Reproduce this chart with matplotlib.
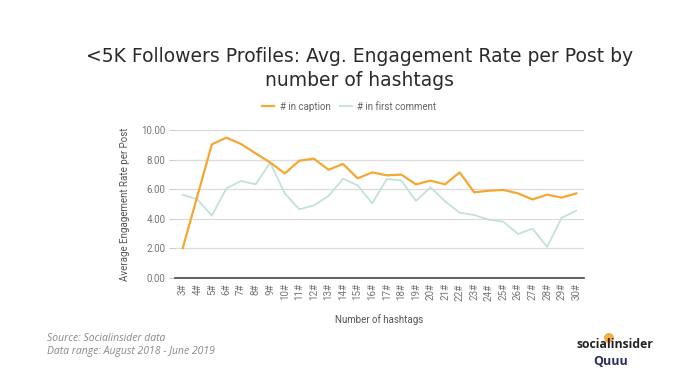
import numpy as np
import matplotlib.pyplot as plt
from matplotlib.patches import Ellipse

hashtags = list(range(3, 31))
tick_labels = [f'{n}#' for n in hashtags]

in_caption = [2.00, 5.50, 9.03, 9.48, 9.05, 8.42, 7.80, 7.06, 7.92, 8.06,
              7.31, 7.70, 6.73, 7.13, 6.93, 6.98, 6.32, 6.57, 6.32, 7.13,
              5.78, 5.89, 5.94, 5.71, 5.30, 5.62, 5.42, 5.71]
in_first_comment = [5.62, 5.30, 4.20, 6.05, 6.55, 6.32, 7.79, 5.71, 4.63, 4.90,
                    5.53, 6.70, 6.25, 5.03, 6.68, 6.59, 5.19, 6.12, 5.17, 4.40,
                    4.24, 3.93, 3.79, 2.96, 3.32, 2.08, 4.06, 4.54]

plt.rcParams['font.family'] = ['Roboto', 'DejaVu Sans']

fig = plt.figure(figsize=(7, 3.84), dpi=100)
ax = fig.add_axes([0.2506, 0.2768, 0.583, 0.3847])

ax.plot(hashtags, in_caption, color='#f5a733', lw=1.6, label='# in caption', zorder=3)
ax.plot(hashtags, in_first_comment, color='#c3e2d7', lw=1.3, label='# in first comment', zorder=2)

ax.set_xlim(2.5, 30.5)
ax.set_ylim(0, 10)
ax.set_yticks(np.arange(0, 10.1, 2))
ax.set_yticklabels([f'{v:.2f}' for v in np.arange(0, 10.1, 2)])
ax.set_xticks(hashtags)
ax.set_xticklabels(tick_labels, rotation=90, va='top')
ax.grid(axis='y', color='#dcdcdc', lw=0.9, zorder=0)
ax.set_axisbelow(True)
for s in ['top', 'right', 'left']:
    ax.spines[s].set_visible(False)
ax.spines['bottom'].set_color('#444444')
ax.spines['bottom'].set_linewidth(1.2)
ax.tick_params(axis='x', length=0, pad=4, labelsize=7, labelcolor='#777777')
ax.tick_params(axis='y', length=4, color='#cccccc', pad=3, labelsize=7, labelcolor='#777777')

ax.set_ylabel('Average Engagement Rate per Post', fontsize=7, color='#555555', labelpad=8)
ax.set_xlabel('Number of hashtags', fontsize=7, color='#555555', labelpad=10)

fig.text(0.513, 0.822, '<5K Followers Profiles: Avg. Engagement Rate per Post by\nnumber of hashtags',
         ha='center', va='center', fontsize=13.5, family='DejaVu Sans', color='#2a2a2a',
         linespacing=1.3)

fig.legend(loc='center', bbox_to_anchor=(0.499, 0.722), ncol=2, frameon=False,
           fontsize=7, labelcolor='#666666', handlelength=1.2, columnspacing=1.0,
           handletextpad=0.6)

fig.text(0.067, 0.112, 'Source: Socialinsider data', fontsize=7.5, style='italic',
         family='Open Sans', color='#888888')
fig.text(0.067, 0.078, 'Data range: August 2018 - June 2019', fontsize=7.5, style='italic',
         family='Open Sans', color='#888888')

# logo
fig.text(0.878, 0.093, 'socialinsider', fontsize=8.8, weight='bold', ha='center',
         family='Open Sans', color='#222222')
fig.add_artist(Ellipse((0.870, 0.12), 0.012, 0.022, color='#f5a733', alpha=0.9,
                       transform=fig.transFigure))
fig.text(0.872, 0.05, 'Quuu', fontsize=9, weight='bold', ha='center',
         family='Open Sans', color='#2b2d5c')

fig.savefig('out.png', dpi=100)
